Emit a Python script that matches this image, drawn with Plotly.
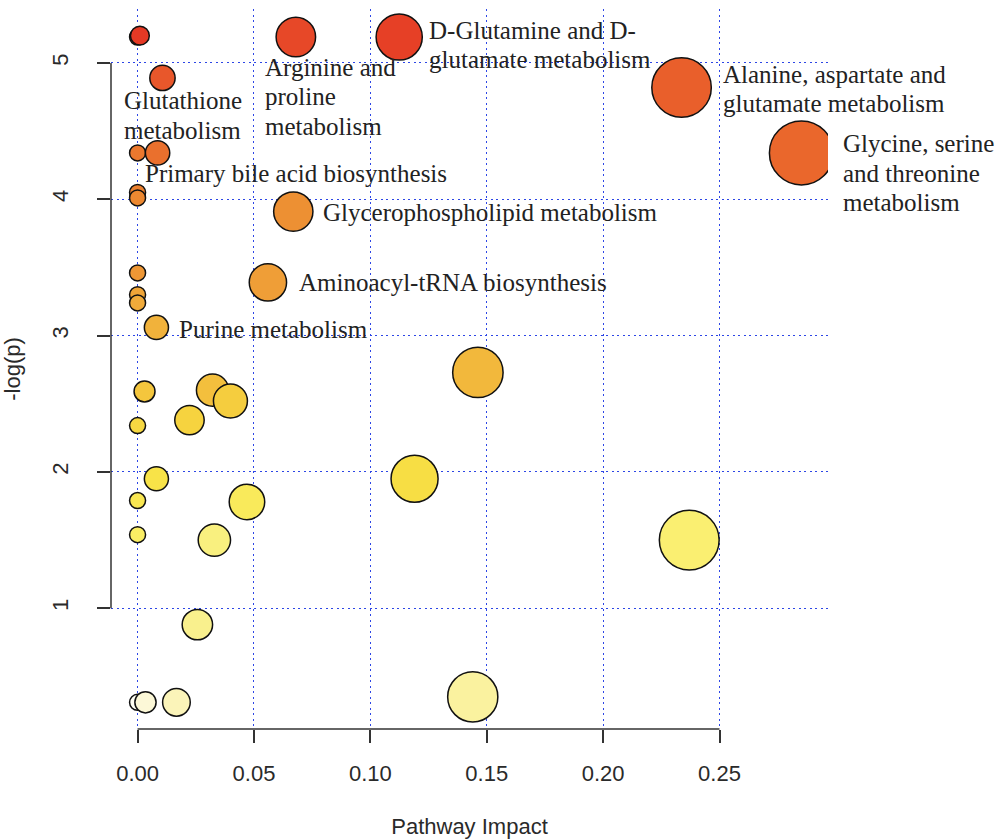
import numpy as np
import plotly.graph_objects as go

# Pathway impact (x) and -log(p) (y) for each pathway
impact = [0.0, 0.001, 0.068, 0.1124, 0.0107, 0.2337, 0.0, 0.0086, 0.2852,
          0.0, 0.0, 0.0669, 0.0, 0.0560, 0.0, 0.0, 0.0081, 0.1462,
          0.003, 0.0322, 0.0399, 0.0223, 0.0, 0.0081, 0.119, 0.0, 0.047,
          0.0, 0.033, 0.237, 0.0257, 0.144, 0.0, 0.0034, 0.0167]
neglogp = [5.19, 5.20, 5.19, 5.19, 4.89, 4.82, 4.34, 4.34, 4.34,
           4.05, 4.01, 3.91, 3.46, 3.39, 3.30, 3.24, 3.06, 2.73,
           2.59, 2.60, 2.52, 2.38, 2.34, 1.95, 1.95, 1.79, 1.78,
           1.54, 1.50, 1.50, 0.88, 0.35, 0.31, 0.31, 0.31]
names = ["", "", "Arginine and\nproline\nmetabolism",
         "D-Glutamine and D-\nglutamate metabolism",
         "Glutathione\nmetabolism",
         "Alanine, aspartate and\nglutamate metabolism", "",
         "Primary bile acid biosynthesis",
         "Glycine, serine\nand threonine\nmetabolism",
         "", "", "Glycerophospholipid metabolism", "",
         "Aminoacyl-tRNA biosynthesis", "", "", "Purine metabolism",
         "", "", "", "", "", "", "", "", "", "", "", "", "", "", "", "", "", ""]

# label placement relative to its bubble (pixels: right, up for first line)
label_offsets = {
    "Arginine and\nproline\nmetabolism": (-33, -30),
    "D-Glutamine and D-\nglutamate metabolism": (28, 7),
    "Glutathione\nmetabolism": (-40, -23),
    "Alanine, aspartate and\nglutamate metabolism": (39, 13),
    "Primary bile acid biosynthesis": (-15, -21),
    "Glycine, serine\nand threonine\nmetabolism": (40, 9),
    "Glycerophospholipid metabolism": (28, -1),
    "Aminoacyl-tRNA biosynthesis": (29, 0),
    "Purine metabolism": (21, -2),
}
LINE_STEP = 29.5

x = np.array(impact)
y = np.array(neglogp)

# bubble radius grows with sqrt(impact); colour follows p-value rank (heat scale)
radius = 8 + 45 * np.sqrt(x)
rank = np.argsort(np.argsort(y, kind="stable"), kind="stable") / (len(y) - 1)

heat = [
    [0.00, "#FFFFF4"], [0.04, "#FBF6CC"], [0.08, "#FAF2A4"], [0.12, "#F9F08C"],
    [0.20, "#FAEF66"], [0.30, "#F8E246"], [0.40, "#F5D03E"], [0.50, "#F2B83C"],
    [0.60, "#F0A238"], [0.70, "#EC8A31"], [0.80, "#EA6E2D"], [0.90, "#E8522A"],
    [1.00, "#E53925"],
]

fig = go.Figure()
fig.add_trace(go.Scatter(
    x=x, y=y, mode="markers",
    marker=dict(size=2 * radius, color=rank, colorscale=heat, cmin=0, cmax=1,
                line=dict(color="#111111", width=1.5), opacity=1),
    hoverinfo="skip", showlegend=False,
))

xr = [0.0 - 0.04 * x.max(), x.max() * 1.04]
yr = [y.min() - 0.04 * (y.max() - y.min()), y.max() + 0.04 * (y.max() - y.min())]

serif = "Liberation Serif, Times New Roman, serif"
sans = "Liberation Sans, Arial, sans-serif"

annotations = []
for xi, yi, nm in zip(x, y, names):
    if not nm:
        continue
    dx, dy = label_offsets[nm]
    for k, line in enumerate(nm.split("\n")):
        annotations.append(dict(
            x=xi, y=yi, xref="x", yref="y", text=line, showarrow=False,
            xanchor="left", yanchor="middle", xshift=dx, yshift=dy - k * LINE_STEP,
            font=dict(family=serif, size=25, color="#222222"),
        ))

grid_col = "rgb(45,70,230)"
axis_col = "#333333"
txt_col = "#2a2a2a"

fig.update_layout(
    width=1004, height=839,
    margin=dict(l=111, r=176, t=9, b=110),
    plot_bgcolor="white", paper_bgcolor="white",
    annotations=annotations,
    font=dict(family=sans, size=22, color=txt_col),
    shapes=[
        dict(type="line", xref="x", yref="paper", x0=0, x1=0.25, y0=0, y1=0,
             line=dict(color=axis_col, width=1.5)),
        dict(type="line", xref="paper", yref="y", x0=0, x1=0, y0=1, y1=5,
             line=dict(color=axis_col, width=1.5)),
    ],
)
fig.update_xaxes(
    range=xr, tick0=0, dtick=0.05, tickformat=".2f", automargin=False,
    showgrid=True, gridcolor=grid_col, griddash="2px,3.5px", gridwidth=1.3,
    zeroline=False, showline=False,
    ticks="outside", ticklen=13, tickwidth=1.5, tickcolor=axis_col,
    ticklabelstandoff=12,
    tickfont=dict(family=sans, size=22, color=txt_col),
    title=dict(text="Pathway Impact", font=dict(family=sans, size=22, color=txt_col),
               standoff=36),
)
fig.update_yaxes(
    range=yr, tick0=0, dtick=1, automargin=False,
    showgrid=True, gridcolor=grid_col, griddash="2px,3.5px", gridwidth=1.3,
    zeroline=False, showline=False,
    ticks="outside", ticklen=13, tickwidth=1.5, tickcolor=axis_col, tickangle=-90,
    ticklabelstandoff=20,
    tickfont=dict(family=sans, size=22, color=txt_col),
    title=dict(text="-log(p)", font=dict(family=sans, size=22, color=txt_col),
               standoff=26),
)

fig.write_html("out.html")
